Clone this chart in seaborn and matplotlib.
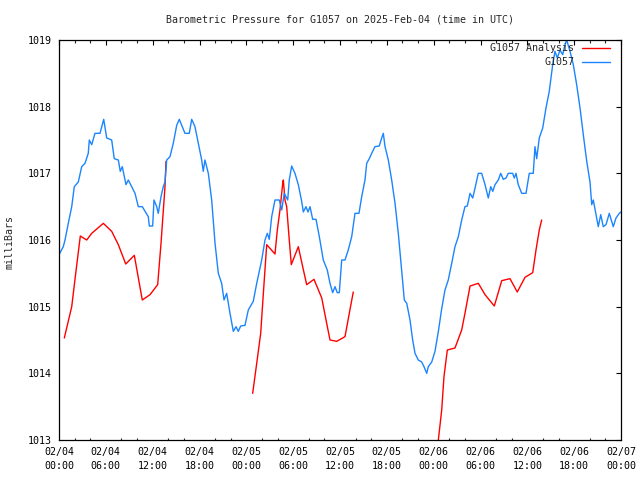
import matplotlib
matplotlib.use("Agg")
import matplotlib.pyplot as plt
import numpy as np
import pandas as pd
import seaborn as sns

# ---------------- data ----------------
title = "Barometric Pressure for G1057 on 2025-Feb-04 (time in UTC)"
y_label = "milliBars"
series_obs = "G1057"
series_ana = "G1057 Analysis"

# hours since 2025-02-04 00:00 UTC
x_major_hours = [0, 6, 12, 18, 24, 30, 36, 42, 48, 54, 60, 66, 72]
x_tick_labels = ["02/04\n00:00", "02/04\n06:00", "02/04\n12:00", "02/04\n18:00",
                 "02/05\n00:00", "02/05\n06:00", "02/05\n12:00", "02/05\n18:00",
                 "02/06\n00:00", "02/06\n06:00", "02/06\n12:00", "02/06\n18:00",
                 "02/07\n00:00"]
y_ticks = [1013, 1014, 1015, 1016, 1017, 1018, 1019]

obs_hours = [0.0, 0.55, 0.77, 1.19, 1.63, 1.96, 2.47, 2.91, 3.33, 3.75, 3.88, 4.19, 4.61,
             5.25, 5.73, 6.11, 6.75, 7.08, 7.60, 7.85, 8.11, 8.58, 8.88, 9.74, 10.16,
             10.67, 11.44, 11.57, 12.00, 12.17, 12.52, 12.72, 13.07, 13.36, 13.58, 13.80,
             14.22, 14.64, 15.08, 15.41, 15.72, 16.14, 16.69, 17.00, 17.42, 17.85, 18.28,
             18.48, 18.70, 19.13, 19.56, 19.99, 20.41, 20.84, 21.14, 21.48, 21.91, 22.33,
             22.68, 22.97, 23.28, 23.83, 24.25, 24.89, 25.33, 25.97, 26.39, 26.69, 26.94,
             27.25, 27.67, 28.22, 28.53, 28.86, 29.30, 29.50, 29.81, 30.23, 30.66, 31.09,
             31.30, 31.64, 31.90, 32.16, 32.50, 32.93, 33.35, 33.86, 34.37, 34.72, 35.06,
             35.36, 35.65, 35.91, 36.22, 36.64, 37.06, 37.50, 37.92, 38.43, 38.78, 39.20,
             39.42, 39.75, 40.06, 40.48, 41.03, 41.34, 41.55, 41.77, 42.19, 42.62, 43.05,
             43.47, 43.90, 44.24, 44.55, 44.97, 45.31, 45.61, 46.03, 46.47, 46.76, 47.11,
             47.31, 47.75, 48.17, 48.59, 49.03, 49.45, 49.87, 50.31, 50.73, 51.16, 51.59,
             52.01, 52.31, 52.66, 53.00, 53.30, 53.72, 54.15, 54.58, 55.00, 55.31, 55.57,
             55.86, 56.28, 56.59, 56.92, 57.27, 57.56, 58.12, 58.33, 58.55, 58.84, 59.28,
             59.83, 60.25, 60.76, 60.98, 61.20, 61.53, 61.97, 62.39, 62.81, 63.25, 63.54,
             63.84, 64.18, 64.53, 64.83, 65.04, 65.47, 65.89, 66.32, 66.75, 67.17, 67.61,
             68.03, 68.25, 68.45, 68.80, 69.09, 69.40, 69.73, 70.08, 70.50, 71.01, 71.36,
             71.78, 72.0]
obs_mb = [1015.78, 1015.90, 1016.00, 1016.25, 1016.50, 1016.80, 1016.87, 1017.10, 1017.15,
          1017.30, 1017.50, 1017.43, 1017.60, 1017.60, 1017.81, 1017.53, 1017.50, 1017.22,
          1017.20, 1017.03, 1017.10, 1016.83, 1016.90, 1016.70, 1016.50, 1016.50, 1016.35,
          1016.21, 1016.21, 1016.60, 1016.50, 1016.40, 1016.65, 1016.80, 1016.87, 1017.20,
          1017.25, 1017.45, 1017.72, 1017.81, 1017.72, 1017.60, 1017.60, 1017.81, 1017.70,
          1017.45, 1017.20, 1017.03, 1017.20, 1017.00, 1016.60, 1015.95, 1015.50, 1015.35,
          1015.10, 1015.20, 1014.90, 1014.63, 1014.70, 1014.63, 1014.71, 1014.72, 1014.95,
          1015.08, 1015.35, 1015.70, 1016.00, 1016.10, 1016.01, 1016.35, 1016.60, 1016.60,
          1016.45, 1016.70, 1016.60, 1016.90, 1017.11, 1017.00, 1016.83, 1016.58, 1016.42,
          1016.50, 1016.42, 1016.50, 1016.31, 1016.31, 1016.05, 1015.70, 1015.55, 1015.35,
          1015.21, 1015.30, 1015.21, 1015.21, 1015.70, 1015.70, 1015.85, 1016.05, 1016.40,
          1016.40, 1016.65, 1016.90, 1017.15, 1017.22, 1017.30, 1017.40, 1017.41, 1017.53,
          1017.60, 1017.40, 1017.20, 1016.90, 1016.55, 1016.10, 1015.55, 1015.10, 1015.05,
          1014.80, 1014.50, 1014.30, 1014.20, 1014.17, 1014.10, 1014.00, 1014.10, 1014.17,
          1014.33, 1014.62, 1014.97, 1015.25, 1015.40, 1015.65, 1015.90, 1016.05, 1016.30,
          1016.50, 1016.51, 1016.70, 1016.63, 1016.78, 1017.00, 1017.00, 1016.83, 1016.63,
          1016.80, 1016.73, 1016.83, 1016.90, 1017.00, 1016.91, 1016.93, 1017.00, 1017.00,
          1016.93, 1017.00, 1016.83, 1016.70, 1016.70, 1017.00, 1017.00, 1017.40, 1017.22,
          1017.53, 1017.68, 1017.98, 1018.23, 1018.63, 1018.83, 1018.73, 1018.85, 1018.78,
          1018.93, 1019.00, 1018.83, 1018.63, 1018.33, 1017.98, 1017.58, 1017.18, 1016.87,
          1016.53, 1016.60, 1016.38, 1016.20, 1016.38, 1016.20, 1016.23, 1016.40, 1016.20,
          1016.33, 1016.40, 1016.42]

ana1_hours = [0.68, 1.63, 2.14, 2.73, 3.55, 4.19, 5.68, 6.75, 7.60, 8.55, 9.65, 10.67,
              11.66, 12.64, 13.07, 13.58, 13.71]
ana1_mb = [1014.53, 1015.00, 1015.50, 1016.06, 1016.00, 1016.10, 1016.25, 1016.13, 1015.93,
           1015.64, 1015.77, 1015.10, 1015.18, 1015.33, 1015.95, 1016.80, 1017.18]
ana2_hours = [24.81, 25.33, 25.84, 26.18, 26.61, 27.67, 27.97, 28.31, 28.66, 28.74, 28.95,
              29.17, 29.50, 29.76, 30.66, 31.22, 31.73, 32.67, 33.66, 34.21, 34.72, 35.58,
              36.64, 37.19, 37.70]
ana2_mb = [1013.70, 1014.15, 1014.60, 1015.20, 1015.93, 1015.79, 1016.15, 1016.45, 1016.85,
           1016.90, 1016.60, 1016.50, 1016.00, 1015.63, 1015.90, 1015.60, 1015.33, 1015.41,
           1015.13, 1014.80, 1014.50, 1014.48, 1014.55, 1014.90, 1015.22]
ana3_hours = [48.55, 49.03, 49.32, 49.75, 50.73, 51.59, 52.01, 52.66, 53.72, 54.58, 55.77,
              56.72, 57.78, 58.71, 59.70, 60.69, 61.11, 61.53, 61.84]
ana3_mb = [1012.95, 1013.45, 1013.95, 1014.35, 1014.38, 1014.65, 1014.90, 1015.31, 1015.35,
           1015.18, 1015.01, 1015.39, 1015.42, 1015.22, 1015.44, 1015.51, 1015.85, 1016.15,
           1016.30]

# ---------------- tables ----------------
obs_df = pd.DataFrame({"hours": obs_hours, "mb": obs_mb})
ana_df = pd.concat([
    pd.DataFrame({"hours": ana1_hours, "mb": ana1_mb, "seg": 1}),
    pd.DataFrame({"hours": ana2_hours, "mb": ana2_mb, "seg": 2}),
    pd.DataFrame({"hours": ana3_hours, "mb": ana3_mb, "seg": 3}),
], ignore_index=True)

# ---------------- style ----------------
sns.set_style("white")
plt.rcParams["font.family"] = ["DejaVu Sans Mono"]
FS = 7.2
RED = "#ff0000"
BLUE = "#1a85ff"

fig = plt.figure(figsize=(6.4, 4.8), dpi=100)
fig.patch.set_facecolor("white")
ax = fig.add_axes([59 / 640, 40 / 480, 562 / 640, 400 / 480])

sns.lineplot(data=ana_df, x="hours", y="mb", units="seg", estimator=None, sort=False,
             color=RED, lw=1.0, ax=ax, legend=False)
sns.lineplot(data=obs_df, x="hours", y="mb", estimator=None, sort=False,
             color=BLUE, lw=1.0, ax=ax, legend=False)

ax.set_xlim(0, 72)
ax.set_ylim(1013, 1019)
ax.set_xticks(x_major_hours)
ax.set_xticklabels(x_tick_labels)
ax.set_xticks(np.arange(0, 73, 2), minor=True)
ax.set_yticks(y_ticks)
ax.set_yticklabels([str(v) for v in y_ticks])
ax.set_xlabel("")
ax.set_ylabel("")

ax.tick_params(axis="both", which="major", direction="in", length=3.6, width=0.8,
               top=True, right=True, labelsize=FS, pad=5, colors="black")
ax.tick_params(axis="x", which="minor", direction="in", length=1.8, width=0.8,
               top=True, bottom=True)
for lab in ax.get_xticklabels():
    lab.set_linespacing(1.45)

for sp in ax.spines.values():
    sp.set_visible(True)
    sp.set_color("black")
    sp.set_linewidth(0.9)

fig.text(340 / 640, 1 - 20 / 480, title, ha="center", va="center", fontsize=FS)
fig.text(10 / 640, 1 - 242 / 480, y_label, ha="center", va="center", rotation=90,
         fontsize=FS)

# gnuplot-style key: right-aligned text followed by the line sample
key_rows = [(series_ana, RED, 0.979), (series_obs, BLUE, 0.945)]
for label, col, yy in key_rows:
    ax.text(0.9164, yy, label, transform=ax.transAxes, ha="right", va="center",
            fontsize=FS)
    ax.plot([0.9306, 0.9804], [yy, yy], transform=ax.transAxes, color=col, lw=1.0,
            clip_on=False)

fig.savefig("out.png", dpi=100, facecolor="white")
